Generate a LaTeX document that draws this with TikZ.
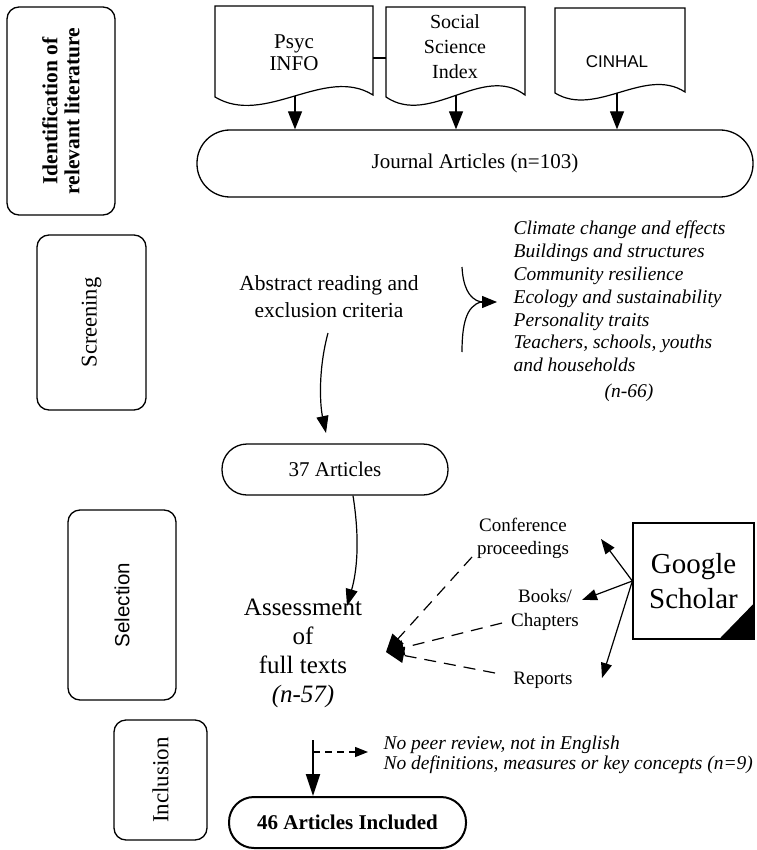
\documentclass[tikz,border=0pt]{standalone}
\usepackage{fontspec}
\setmainfont{Liberation Serif}
\setsansfont{Liberation Sans}
\usetikzlibrary{arrows.meta}
\newcommand\myfs[2]{\fontsize{#1}{#2}\selectfont}
\begin{document}
\begin{tikzpicture}[x=1pt,y=-1pt,line width=1.2pt,
  stagebox/.style={draw,rounded corners=12,line width=1.3pt,rotate=90,inner sep=0,align=center},
  roundbox/.style={draw,line width=1.3pt,inner sep=0,align=center},
  txt/.style={inner sep=0,align=center},
  arrT/.style={-{Triangle[length=18pt,width=14pt]}},
  arrA/.style={-{Triangle[length=17pt,width=12pt]}},
  arrG/.style={-{Triangle[length=15pt,width=11pt]}},
  dashA/.style={dash pattern=on 12pt off 8pt,-{Triangle[length=18pt,width=15pt]}},
  docline/.style={line width=1.2pt}]
\fill[white] (0,0) rectangle (756,850);
\useasboundingbox (0,0) rectangle (756,850);

% stage boxes
\node[stagebox,minimum width=208,minimum height=108,font=\bfseries\myfs{21.5}{22}] (ident) at (61,111) {Identification of\\relevant literature};
\node[stagebox,minimum width=175,minimum height=109,font=\myfs{22.5}{24}] (screen) at (91.5,322.5) {Screening};
\node[stagebox,minimum width=190,minimum height=108,font=\sffamily\myfs{20.5}{24}] (select) at (122,605) {Selection};
\node[stagebox,minimum width=120,minimum height=93,font=\myfs{23}{24}] (incl) at (160.5,780) {Inclusion};

% document shapes
\draw[docline] (215,6) -- (373,6) -- (373,95) .. controls (325,65) and (265,127) .. (215,97) -- cycle;
\draw[docline] (386,7) -- (525,7) -- (525,95) .. controls (483,63) and (430,127) .. (386,97) -- cycle;
\draw[docline] (555,8) -- (685,8) -- (685,92) .. controls (645,66) and (596,118) .. (555,93) -- cycle;
\node[txt,font=\myfs{21}{22}] (psyc) at (294,53) {Psyc\\INFO};
\node[txt,font=\myfs{20}{25}] (social) at (455,47) {Social\\Science\\Index};
\node[txt,font=\sffamily\myfs{17}{20}] (cinhal) at (617,62) {CINHAL};
\coordinate (psycR) at (373,58);
\coordinate (socL) at (386,58);
\draw (psycR) -- (socL);

\node[roundbox,rounded corners=33,minimum width=556,minimum height=67,font=\myfs{21}{24}] (journal) at (475,163.5) {Journal Articles (n=103)};
\coordinate (pb) at (295,96);
\coordinate (sb) at (456,95);
\coordinate (cb) at (617,93);
\draw[arrT] (pb) -- (pb |- journal.north);
\draw[arrT] (sb) -- (sb |- journal.north);
\draw[arrT] (cb) -- (cb |- journal.north);

% screening
\node[txt,font=\myfs{21.5}{27}] (abstract) at (329,296.5) {Abstract reading and\\exclusion criteria};
\node[txt,align=left,anchor=west,font=\itshape\myfs{19.5}{22.8}] (excl) at (513,296.5) {Climate change and effects\\Buildings and structures\\Community resilience\\Ecology and sustainability\\Personality traits\\Teachers, schools, youths\\and households};
\node[txt,font=\itshape\myfs{19.5}{22}] (n66) at (629,393) {(n-66)};
\coordinate (bt) at (462,267);
\coordinate (bb) at (462,352);
\coordinate (bj) at (481,302);
\coordinate (btip) at (497,302);
\draw (bt) .. controls (463,285) and (468,299) .. (bj);
\draw (bb) .. controls (462,325) and (466,306) .. (bj);
\draw[-{Triangle[length=15pt,width=12pt]}] (bj) -- (btip);

\node[roundbox,rounded corners=25,minimum width=226,minimum height=51,font=\myfs{21}{24}] (a37) at (335,469.5) {37 Articles};
\coordinate (abs) at (328,333);
\coordinate (a37in) at (326,433);
\draw[arrA] (abs) .. controls (318,370) and (320,405) .. (a37in);

% selection
\node[txt,font=\myfs{25}{29}] (assess) at (303,653) {Assessment\\of\\full texts\\\textit{(n-57)}};
\coordinate (atip) at (347,606);
\draw[arrA] ([xshift=18]a37.south) .. controls (360,540) and (357,571) .. (atip);

\node[txt,font=\myfs{19}{23}] (conf) at (523,538.5) {Conference\\proceedings};
\node[txt,font=\myfs{19}{24}] (books) at (545,610) {Books/\\Chapters};
\node[txt,font=\myfs{19}{23}] (reports) at (543,680) {Reports};
\coordinate (conv) at (386,652);
\coordinate (cs) at (472,557);
\coordinate (bs) at (502,623);
\coordinate (rs) at (495,673);
\draw[dashA] (cs) -- (conv);
\draw[dashA] (bs) -- (conv);
\draw[dashA] (rs) -- (conv);

\node[draw,line width=1.3pt,minimum width=121,minimum height=116,inner sep=0,align=center,font=\myfs{29}{35}] (gs) at (693.5,581) {Google\\Scholar};
\fill (gs.south east) -- ++(-36,0) -- ++(36,-37) -- cycle;
\coordinate (gc) at (601,539);
\coordinate (gb) at (582,600);
\coordinate (gr) at (602,678);
\draw[arrG] (gs.west) -- (gc);
\draw[arrG] (gs.west) -- (gb);
\draw[arrG] (gs.west) -- (gr);

% inclusion
\node[roundbox,line width=2pt,rounded corners=25,minimum width=237,minimum height=51,font=\bfseries\myfs{21}{24}] (i46) at (347.5,822.5) {46 Articles Included};
\coordinate (vtop) at (313,740);
\coordinate (vmid) at (313,752);
\coordinate (dtip) at (368,752);
\draw[line width=2pt,-{Triangle[length=22pt,width=14pt]}] (vtop) -- (vtop |- i46.north);
\draw[dash pattern=on 7pt off 5pt,-{Triangle[length=13pt,width=10pt]}] (vmid) -- (dtip);
\node[txt,align=left,anchor=west,font=\itshape\myfs{19.5}{20}] (excl2) at (383,755) {No peer review, not in English\\No definitions, measures or key concepts (n=9)};
\end{tikzpicture}
\end{document}
